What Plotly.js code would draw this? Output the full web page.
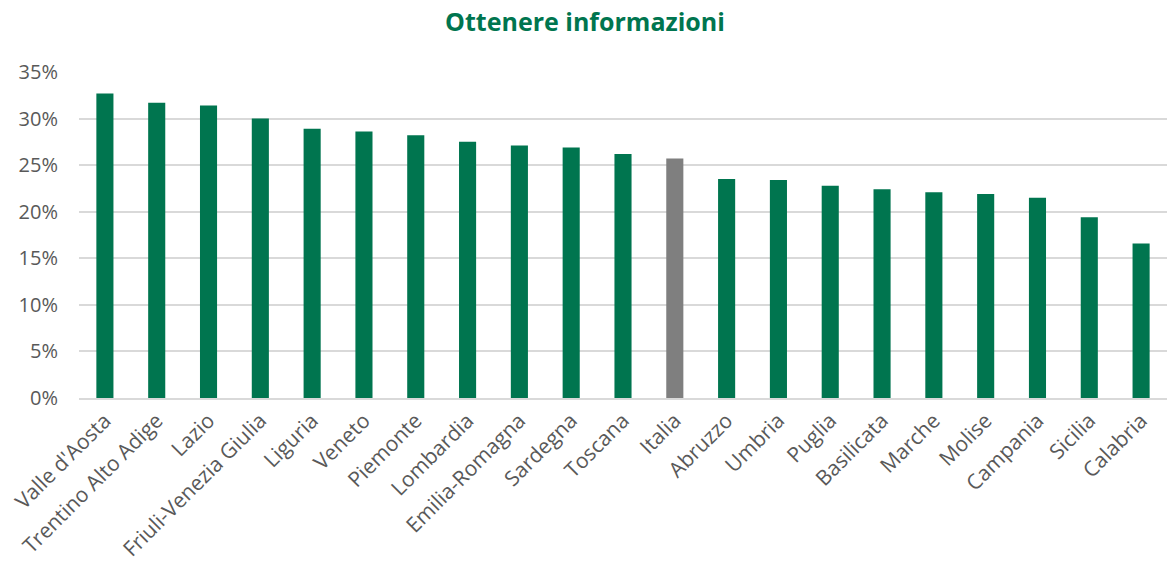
<!DOCTYPE html>
<html>
<head>
<meta charset="utf-8">
<script src="https://cdn.plot.ly/plotly-3.0.1.min.js"></script>
<style>html,body{margin:0;padding:0;background:#fff;}#chart{width:1170px;height:573px;}</style>
</head>
<body>
<div id="chart"></div>
<script>
const regions = ["Valle d'Aosta","Trentino Alto Adige","Lazio","Friuli-Venezia Giulia","Liguria","Veneto","Piemonte","Lombardia","Emilia-Romagna","Sardegna","Toscana","Italia","Abruzzo","Umbria","Puglia","Basilicata","Marche","Molise","Campania","Sicilia","Calabria"];
const values = [0.327,0.317,0.314,0.300,0.289,0.286,0.282,0.275,0.271,0.269,0.262,0.257,0.235,0.234,0.228,0.224,0.221,0.219,0.215,0.194,0.166];
const yTicks = [0,0.05,0.10,0.15,0.20,0.25,0.30,0.35];
const yTickLabels = ["0%","5%","10%","15%","20%","25%","30%","35%"];
const green = "#00754F", gray = "#7F7F7F";
const colors = regions.map(r => r === "Italia" ? gray : green);

Plotly.newPlot("chart", [{
  type: "bar",
  x: regions,
  y: values,
  marker: {color: colors, line: {width: 0}},
  hoverinfo: "x+y"
}], {
  width: 1170, height: 573,
  margin: {l: 79, r: 3, t: 72, b: 175},
  paper_bgcolor: "#fff", plot_bgcolor: "#fff",
  title: {text: "<b>Ottenere informazioni</b>", x: 0.5, xanchor: "center", y: 0.962, yanchor: "middle",
          font: {family: "Open Sans, sans-serif", size: 25, color: green}},
  bargap: 0.67,
  showlegend: false,
  xaxis: {
    tickangle: -45,
    tickfont: {family: "Open Sans, sans-serif", size: 21, color: "#595959"},
    showline: true, linecolor: "#d9d9d9", linewidth: 2,
    ticks: "", showgrid: false, zeroline: false
  },
  yaxis: {
    range: [0, 0.35],
    tickvals: yTicks, ticktext: yTickLabels,
    tickfont: {family: "Open Sans, sans-serif", size: 20, color: "#595959"},
    ticklabelstandoff: 20,
    showgrid: true, gridcolor: "#d9d9d9", gridwidth: 2,
    zeroline: false, showline: false, ticks: ""
  }
}, {displayModeBar: false});
</script>
</body>
</html>
